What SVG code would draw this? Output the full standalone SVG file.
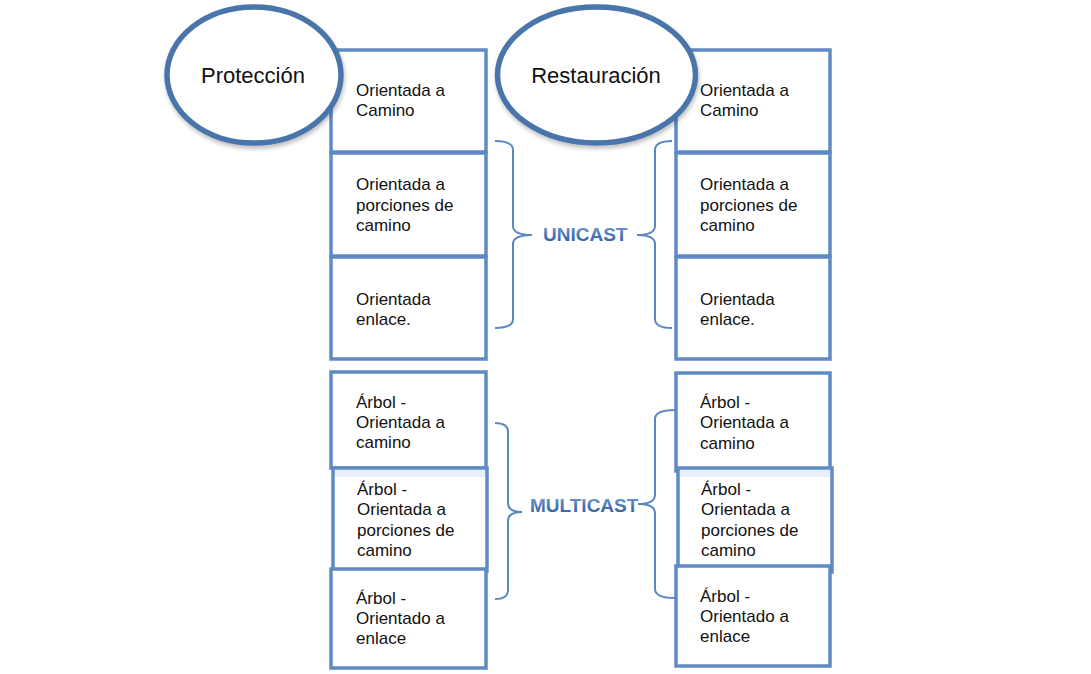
<svg xmlns="http://www.w3.org/2000/svg" width="1091" height="674" viewBox="0 0 1091 674">
<style>
.box{fill:#ffffff;stroke:#5f8ac4;stroke-width:3.5}
.ell{fill:#ffffff;stroke:#4a74ab;stroke-width:5.5}
.brace{fill:none;stroke:#5b87c0;stroke-width:2}
.t{font-family:"Liberation Sans",Arial,sans-serif;font-size:17px;fill:#111111}
.title{font-family:"Liberation Sans",Arial,sans-serif;font-size:22px;fill:#111111;text-anchor:middle}
.cast{font-family:"Liberation Sans",Arial,sans-serif;font-size:19px;font-weight:bold;fill:url(#castGrad)}
</style>
<defs>
<linearGradient id="castGrad" x1="0" y1="0" x2="0" y2="1">
<stop offset="0" stop-color="#7aa0d4"/>
<stop offset="0.5" stop-color="#4b78b8"/>
<stop offset="1" stop-color="#2d5896"/>
</linearGradient>
<filter id="sh" x="-10%" y="-10%" width="130%" height="130%">
<feDropShadow dx="1" dy="3" stdDeviation="2" flood-color="#000" flood-opacity="0.25"/>
</filter>
</defs>
<rect width="1091" height="674" fill="#ffffff"/>

<g id="left-unicast-1"><rect class="box" x="331" y="50" width="155" height="102"/><text class="t" x="356" y="96">Orientada a</text><text class="t" x="356" y="116">Camino</text></g>
<g id="left-unicast-2"><rect class="box" x="331" y="153" width="155" height="103"/><text class="t" x="356" y="190">Orientada a</text><text class="t" x="356" y="211">porciones de</text><text class="t" x="356" y="231">camino</text></g>
<g id="left-unicast-3"><rect class="box" x="331" y="257" width="155" height="102"/><text class="t" x="356" y="305">Orientada</text><text class="t" x="356" y="325">enlace.</text></g>

<g id="right-unicast-1"><rect class="box" x="676" y="50" width="154" height="102"/><text class="t" x="700" y="96">Orientada a</text><text class="t" x="700" y="116">Camino</text></g>
<g id="right-unicast-2"><rect class="box" x="676" y="153" width="154" height="103"/><text class="t" x="700" y="190">Orientada a</text><text class="t" x="700" y="211">porciones de</text><text class="t" x="700" y="231">camino</text></g>
<g id="right-unicast-3"><rect class="box" x="676" y="257" width="154" height="102"/><text class="t" x="700" y="305">Orientada</text><text class="t" x="700" y="325">enlace.</text></g>

<g id="left-multicast-1"><rect class="box" x="331" y="372" width="155" height="96"/><text class="t" x="356" y="408">Árbol -</text><text class="t" x="356" y="428">Orientada a</text><text class="t" x="356" y="448">camino</text></g>
<g id="left-multicast-2"><rect class="box" x="333" y="468" width="154" height="103"/><rect x="335" y="470" width="150" height="7" fill="#e9eff8"/><text class="t" x="357" y="495">Árbol -</text><text class="t" x="357" y="515">Orientada a</text><text class="t" x="357" y="536">porciones de</text><text class="t" x="357" y="556">camino</text></g>
<g id="left-multicast-3"><rect class="box" x="331" y="569" width="155" height="99"/><text class="t" x="356" y="604">Árbol -</text><text class="t" x="356" y="624">Orientado a</text><text class="t" x="356" y="644">enlace</text></g>

<g id="right-multicast-1"><rect class="box" x="676" y="373" width="154" height="98"/><text class="t" x="700" y="408">Árbol -</text><text class="t" x="700" y="428">Orientada a</text><text class="t" x="700" y="449">camino</text></g>
<g id="right-multicast-2"><rect class="box" x="678" y="468" width="154" height="104"/><rect x="680" y="470" width="150" height="7" fill="#e9eff8"/><text class="t" x="701" y="495">Árbol -</text><text class="t" x="701" y="515">Orientada a</text><text class="t" x="701" y="536">porciones de</text><text class="t" x="701" y="556">camino</text></g>
<g id="right-multicast-3"><rect class="box" x="676" y="566" width="154" height="100"/><text class="t" x="700" y="602">Árbol -</text><text class="t" x="700" y="622">Orientado a</text><text class="t" x="700" y="642">enlace</text></g>

<g id="connectors">
<path class="brace" d="M495,141 Q513,141 513,150 L513,226 Q513,235 532,235 Q513,235 513,244 L513,319 Q513,328 495,328"/>
<path class="brace" d="M672,141 Q655,141 655,150 L655,226 Q655,235 637,235 Q655,235 655,244 L655,319 Q655,328 672,328"/>
<path class="brace" d="M495,423 Q508,423 508,432 L508,503 Q508,512 522,512 Q508,512 508,521 L508,590 Q508,599 495,599"/>
<path class="brace" d="M675,410 Q655,410 655,419 L655,495 Q655,504 638,504 Q655,504 655,513 L655,589 Q655,598 675,598"/>
</g>

<g id="unicast"><text class="cast" x="543" y="241">UNICAST</text></g>
<g id="multicast"><text class="cast" x="530" y="512">MULTICAST</text></g>

<g id="proteccion"><ellipse class="ell" cx="254" cy="75" rx="87" ry="68" filter="url(#sh)"/><text class="title" x="253" y="83">Protección</text></g>
<g id="restauracion"><ellipse class="ell" cx="596.5" cy="75" rx="99" ry="68" filter="url(#sh)"/><text class="title" x="596" y="83">Restauración</text></g>
</svg>
